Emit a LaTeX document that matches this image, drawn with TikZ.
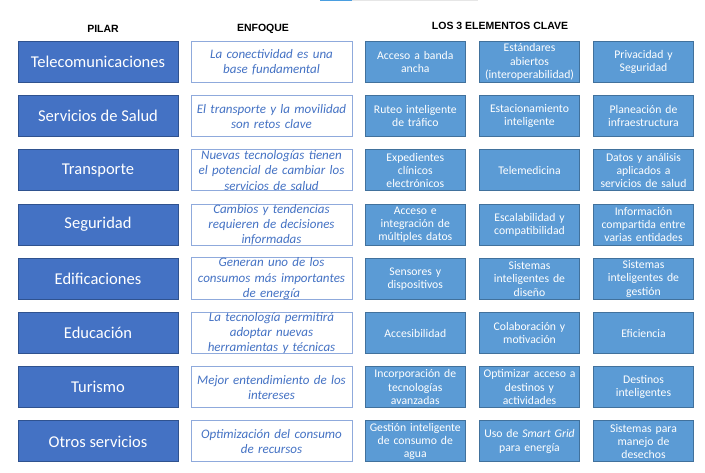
\documentclass[tikz,border=0pt]{standalone}
\usepackage{fontspec}
\setmainfont{Carlito}
\newfontfamily\hdrfont{Liberation Sans}
\definecolor{pilarfill}{HTML}{4472C4}
\definecolor{pilarline}{HTML}{2F528F}
\definecolor{enfline}{HTML}{8FAADC}
\definecolor{enftext}{HTML}{4472C4}
\definecolor{elfill}{HTML}{5B9BD5}
\definecolor{elline}{HTML}{41719C}
\definecolor{topblue}{HTML}{4A9EE0}
\definecolor{topgray}{HTML}{E6E6E6}
\tikzset{
  pilarbox/.style={draw=pilarline, fill=pilarfill, line width=1pt, minimum width=160pt, minimum height=41pt, inner sep=0pt, text=white, font=\fontsize{16.5}{18}\selectfont},
  enfbox/.style={draw=enfline, fill=white, line width=1pt, minimum width=161pt, minimum height=41pt, inner sep=0pt, text width=156pt, align=center, text=enftext, font=\fontsize{13}{15.3}\selectfont\itshape},
  elbox/.style={draw=elline, fill=elfill, line width=1pt, minimum width=100.5pt, minimum height=41pt, inner sep=0pt, text width=96pt, align=center, text=white, font=\fontsize{11.7}{13.3}\selectfont},
  hdr/.style={font=\hdrfont\bfseries\fontsize{10.5}{12}\selectfont, inner sep=0pt}
}
\newcommand{\myrow}[6]{%
  \pgfmathsetmacro{\yc}{62+54.2*(#1-1)}
  \node[pilarbox] (p#1) at (98,\yc) {#2};
  \node[enfbox] (e#1) at (271.5,\yc) {#3};
  \node[elbox] (a#1) at (415.3,\yc) {#4};
  \node[elbox] (b#1) at (529.5,\yc) {#5};
  \node[elbox] (c#1) at (643.5,\yc) {#6};
}
\begin{document}
\begin{tikzpicture}[x=1pt,y=-1pt]
\useasboundingbox[fill=white] (0,0) rectangle (705,473);
\fill[topblue] (320,0) rectangle (351.7,1.2);
\fill[topgray] (351.7,0) rectangle (477.7,1.2);
\node[hdr] (h1) at (103,29) {PILAR};
\node[hdr] (h2) at (263,29) {ENFOQUE};
\node[hdr] (h3) at (500,26) {LOS 3 ELEMENTOS CLAVE};
\myrow{1}{Telecomunicaciones}{La conectividad es una\\base fundamental}{Acceso a banda\\ancha}{Estándares\\abiertos\\(interoperabilidad)}{Privacidad y\\Seguridad}
\myrow{2}{Servicios de Salud}{El transporte y la movilidad\\son retos clave}{Ruteo inteligente\\de tráfico}{Estacionamiento\\inteligente}{Planeación de\\infraestructura}
\myrow{3}{Transporte}{Nuevas tecnologías tienen\\el potencial de cambiar los\\servicios de salud}{Expedientes\\clínicos\\electrónicos}{Telemedicina}{Datos y análisis\\aplicados a\\servicios de salud}
\myrow{4}{Seguridad}{Cambios y tendencias\\requieren de decisiones\\informadas}{Acceso e\\integración de\\múltiples datos}{Escalabilidad y\\compatibilidad}{Información\\compartida entre\\varias entidades}
\myrow{5}{Edificaciones}{Generan uno de los\\consumos más importantes\\de energía}{Sensores y\\dispositivos}{Sistemas\\inteligentes de\\diseño}{Sistemas\\inteligentes de\\gestión}
\myrow{6}{Educación}{La tecnología permitirá\\adoptar nuevas\\herramientas y técnicas}{Accesibilidad}{Colaboración y\\motivación}{Eficiencia}
\myrow{7}{Turismo}{Mejor entendimiento de los\\intereses}{Incorporación de\\tecnologías\\avanzadas}{Optimizar acceso a\\destinos y\\actividades}{Destinos\\inteligentes}
\myrow{8}{Otros servicios}{Optimización del consumo\\de recursos}{Gestión inteligente\\de consumo de\\agua}{Uso de \textit{Smart Grid}\\para energía}{Sistemas para\\manejo de\\desechos}
\end{tikzpicture}
\end{document}
